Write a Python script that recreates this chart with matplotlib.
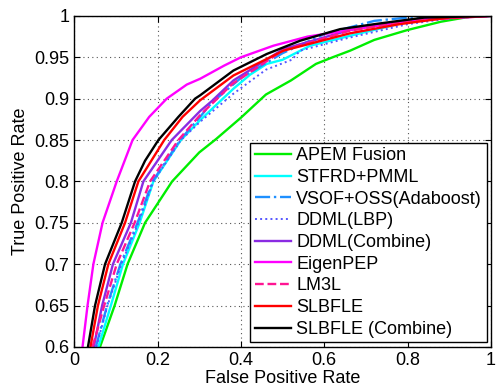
import numpy as np
import matplotlib
matplotlib.use("Agg")
from matplotlib import pyplot as plt

plt.rcParams['font.family'] = ['Liberation Sans', 'DejaVu Sans']

# ROC points (false positive rate, true positive rate)
apem_fpr = [0.062, 0.097, 0.128, 0.170, 0.235, 0.30, 0.34, 0.40, 0.46, 0.52, 0.58, 0.62, 0.662, 0.72, 0.8, 0.88, 0.96, 1.0]
apem_tpr = [0.60, 0.65, 0.70, 0.75, 0.80, 0.835, 0.851, 0.877, 0.905, 0.922, 0.942, 0.95, 0.958, 0.971, 0.983, 0.993, 1.0, 1.0]

stfrd_fpr = [0.058, 0.088, 0.117, 0.157, 0.19, 0.256, 0.302, 0.382, 0.422, 0.462, 0.50, 0.566, 0.662, 0.8, 0.92, 1.0]
stfrd_tpr = [0.60, 0.65, 0.70, 0.75, 0.80, 0.85, 0.874, 0.912, 0.929, 0.942, 0.947, 0.964, 0.976, 0.993, 1.0, 1.0]

vsof_fpr = [0.052, 0.079, 0.111, 0.152, 0.188, 0.254, 0.302, 0.33, 0.40, 0.50, 0.6, 0.72, 0.8, 1.0]
vsof_tpr = [0.60, 0.65, 0.70, 0.75, 0.80, 0.85, 0.878, 0.895, 0.925, 0.955, 0.978, 0.994, 0.998, 1.0]

ddml_lbp_fpr = [0.053, 0.08, 0.113, 0.154, 0.19, 0.256, 0.302, 0.382, 0.46, 0.522, 0.542, 0.654, 0.8, 0.9, 1.0]
ddml_lbp_tpr = [0.60, 0.65, 0.70, 0.75, 0.80, 0.85, 0.872, 0.906, 0.935, 0.947, 0.958, 0.973, 0.99, 0.997, 1.0]

ddml_comb_fpr = [0.047, 0.067, 0.093, 0.136, 0.166, 0.234, 0.302, 0.33, 0.382, 0.502, 0.662, 0.8, 1.0]
ddml_comb_tpr = [0.60, 0.65, 0.70, 0.75, 0.80, 0.85, 0.885, 0.897, 0.922, 0.960, 0.983, 0.995, 1.0]

eigen_fpr = [0.020, 0.032, 0.046, 0.068, 0.102, 0.14, 0.18, 0.222, 0.27, 0.302, 0.36, 0.40, 0.478, 0.56, 0.662, 0.75, 0.85, 0.95, 1.0]
eigen_tpr = [0.60, 0.65, 0.70, 0.75, 0.80, 0.85, 0.878, 0.90, 0.917, 0.924, 0.94, 0.95, 0.964, 0.975, 0.983, 0.99, 0.996, 0.999, 1.0]

lm3l_fpr = [0.044, 0.072, 0.102, 0.145, 0.182, 0.25, 0.302, 0.38, 0.50, 0.66, 0.8, 1.0]
lm3l_tpr = [0.60, 0.65, 0.70, 0.75, 0.80, 0.85, 0.88, 0.918, 0.958, 0.982, 0.994, 1.0]

slbfle_fpr = [0.039, 0.057, 0.082, 0.122, 0.154, 0.216, 0.26, 0.302, 0.382, 0.502, 0.662, 0.78, 0.9, 1.0]
slbfle_tpr = [0.60, 0.65, 0.70, 0.75, 0.80, 0.85, 0.878, 0.898, 0.928, 0.958, 0.979, 0.99, 0.998, 1.0]

slbfle_comb_fpr = [0.033, 0.050, 0.074, 0.114, 0.146, 0.17, 0.202, 0.25, 0.29, 0.302, 0.382, 0.462, 0.542, 0.638, 0.72, 0.84, 1.0]
slbfle_comb_tpr = [0.60, 0.65, 0.70, 0.75, 0.80, 0.825, 0.85, 0.878, 0.90, 0.904, 0.934, 0.954, 0.970, 0.984, 0.99, 0.998, 1.0]

xticks = [0, 0.2, 0.4, 0.6, 0.8, 1]
xtick_labels = ['0', '0.2', '0.4', '0.6', '0.8', '1']
yticks = [0.6, 0.65, 0.7, 0.75, 0.8, 0.85, 0.9, 0.95, 1]
ytick_labels = ['0.6', '0.65', '0.7', '0.75', '0.8', '0.85', '0.9', '0.95', '1']

fig = plt.figure(figsize=(4.98, 3.88), dpi=100)
ax = fig.add_axes([0.149, 0.106, 0.837, 0.853])

lw = 1.7
ax.plot(apem_fpr, apem_tpr, '-', color='#00ee00', lw=lw, label='APEM Fusion')
ax.plot(stfrd_fpr, stfrd_tpr, '-', color='#00ffff', lw=lw, label='STFRD+PMML')
ax.plot(vsof_fpr, vsof_tpr, '-.', color='#1e90ff', lw=lw, label='VSOF+OSS(Adaboost)')
ax.plot(ddml_lbp_fpr, ddml_lbp_tpr, ':', color='#5555ff', lw=1.4, label='DDML(LBP)')
ax.plot(ddml_comb_fpr, ddml_comb_tpr, '-', color='#8a2be2', lw=lw, label='DDML(Combine)')
ax.plot(eigen_fpr, eigen_tpr, '-', color='#ff00ff', lw=lw, label='EigenPEP')
ax.plot(lm3l_fpr, lm3l_tpr, '--', color='#ff1493', lw=lw, label='LM3L')
ax.plot(slbfle_fpr, slbfle_tpr, '-', color='#ff0000', lw=lw, label='SLBFLE')
ax.plot(slbfle_comb_fpr, slbfle_comb_tpr, '-', color='black', lw=lw, label='SLBFLE (Combine)')

ax.set_xlim(0, 1)
ax.set_ylim(0.6, 1)
ax.set_xticks(xticks)
ax.set_xticklabels(xtick_labels)
ax.set_yticks(yticks)
ax.set_yticklabels(ytick_labels)
ax.tick_params(direction='in', top=True, right=True, labelsize=13, length=4)
ax.grid(True, linestyle=(0, (1, 3)), color='#555555', lw=0.8)
for s in ax.spines.values():
    s.set_linewidth(1)

ax.set_xlabel('False Positive Rate', fontsize=13, labelpad=1)
ax.set_ylabel('True Positive Rate', fontsize=13, labelpad=4)

leg = ax.legend(loc='lower right', fontsize=13, fancybox=False, framealpha=1,
                edgecolor='black', handlelength=2.0, handletextpad=0.3,
                labelspacing=0.26, borderpad=0.25, borderaxespad=0.25)
leg.get_frame().set_linewidth(1)

fig.savefig('out.png', dpi=100)
